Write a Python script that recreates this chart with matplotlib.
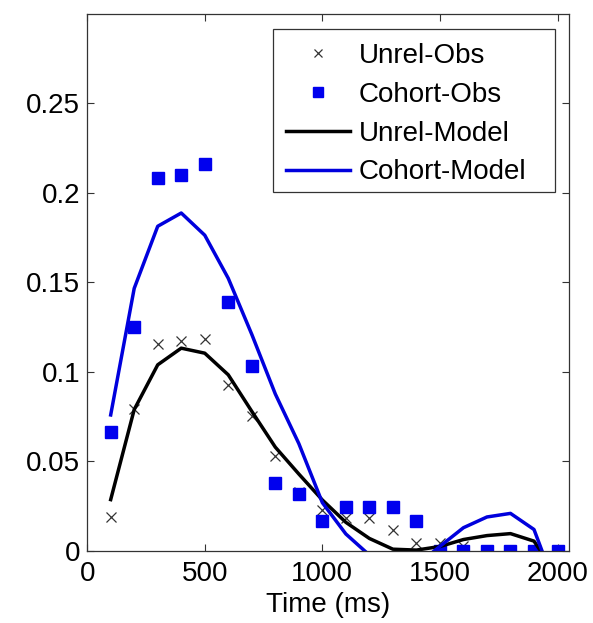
import matplotlib
matplotlib.use("Agg")
import matplotlib.pyplot as plt
from matplotlib.patches import Rectangle
import numpy as np

plt.rcParams['font.family'] = ['Liberation Sans', 'DejaVu Sans']

# time points (ms)
time_ms = [100, 200, 300, 400, 500, 600, 700, 800, 900, 1000,
           1100, 1200, 1300, 1400, 1500, 1600, 1700, 1800, 1900, 2000]

unrel_obs = [0.0188, 0.0793, 0.1157, 0.1173, 0.1183, 0.0930, 0.0755, 0.0532, 0.033, 0.0231,
             0.0185, 0.0185, 0.0120, 0.0047, 0.0047, 0.0030, 0.0, 0.0, 0.0, 0.0]
cohort_obs = [0.0664, 0.1253, 0.2084, 0.2103, 0.2164, 0.1389, 0.1034, 0.0380, 0.0319, 0.0166,
              0.0244, 0.0244, 0.0244, 0.0170, 0.0, 0.0, 0.0, 0.0, 0.0, 0.0]
unrel_model = [0.0287, 0.0790, 0.1040, 0.1133, 0.1105, 0.0984, 0.0780, 0.0580, 0.0430, 0.0285,
               0.0160, 0.0070, 0.0010, 0.0005, 0.0025, 0.0064, 0.0086, 0.0097, 0.0055, -0.014]
cohort_model = [0.0760, 0.1467, 0.1814, 0.1888, 0.1764, 0.1523, 0.1210, 0.0877, 0.0600, 0.0270,
                0.0095, -0.0023, -0.0100, -0.0080, 0.0026, 0.0130, 0.0190, 0.0210, 0.0120, -0.023]

fig = plt.figure(figsize=(5.93, 6.23), dpi=100)
ax = fig.add_axes([0.147, 0.1156, 0.813, 0.862])

ax.plot(time_ms, unrel_obs, linestyle='none', marker='x', color='#333333',
        markersize=7, markeredgewidth=0.9, label='Unrel-Obs')
ax.plot(time_ms, cohort_obs, linestyle='none', marker='s', color='#0000ee',
        markersize=8.5, label='Cohort-Obs')
ax.plot(time_ms, unrel_model, color='black', linewidth=2.5, label='Unrel-Model')
ax.plot(time_ms, cohort_model, color='#0000dd', linewidth=2.5, label='Cohort-Model')

ax.set_xlim(0, 2050)
ax.set_ylim(0, 0.3)
ax.set_xticks([0, 500, 1000, 1500, 2000])
ax.set_yticks([0, 0.05, 0.1, 0.15, 0.2, 0.25])
ax.set_yticklabels(['0', '0.05', '0.1', '0.15', '0.2', '0.25'])
ax.tick_params(direction='in', top=True, right=True, labelsize=20, length=5,
               color='#333333')
ax.tick_params(axis='x', pad=7)
ax.tick_params(axis='y', pad=5)
for s in ax.spines.values():
    s.set_color('#333333')
    s.set_linewidth(0.9)
ax.set_xlabel('Time (ms)', fontsize=20, labelpad=4)

# legend box drawn separately (MATLAB-style wide padding)
box = Rectangle((0.386, 0.6685), 0.585, 0.3035, transform=ax.transAxes,
                facecolor='white', edgecolor='#333333', linewidth=0.9, zorder=4)
ax.add_patch(box)
leg = ax.legend(loc='upper left', bbox_to_anchor=(0.413, 0.946), borderaxespad=0,
                fontsize=20, frameon=False, handlelength=2.3, handletextpad=0.3,
                labelspacing=0.46, borderpad=0, markerscale=0.8)
leg.set_zorder(5)

fig.savefig('out.png', dpi=100)
